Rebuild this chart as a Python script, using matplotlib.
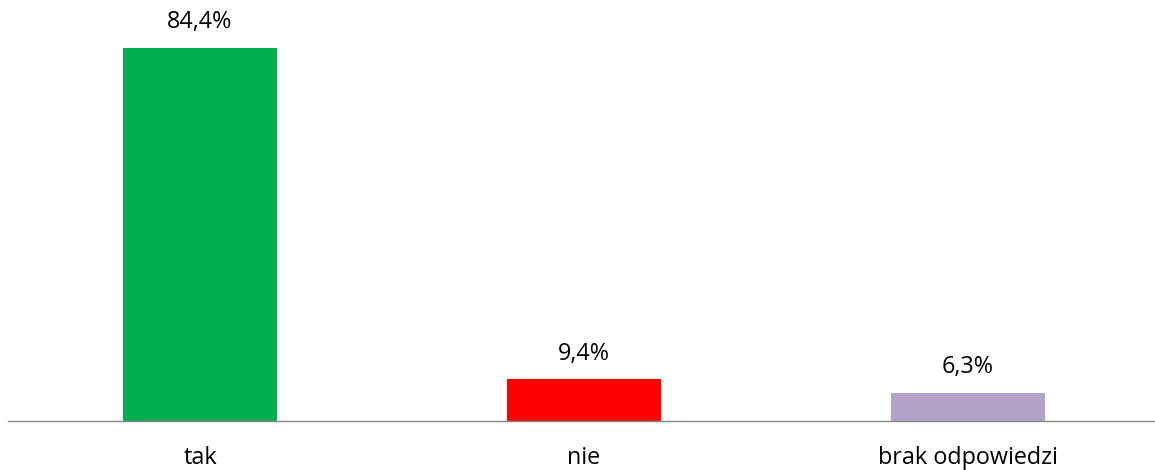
import matplotlib.pyplot as plt

# data
categories = ['tak', 'nie', 'brak odpowiedzi']
values = [84.4, 9.4, 6.3]
labels = ['84,4%', '9,4%', '6,3%']
colors = ['#00B050', '#FF0000', '#B3A2C7']

plt.rcParams['font.family'] = ['Open Sans', 'DejaVu Sans']

fig = plt.figure(figsize=(11.55, 4.7), dpi=100)
ax = fig.add_axes([8 / 1155, 49 / 470, 1152 / 1155, 398 / 470])

x = range(len(categories))
ax.bar(x, values, width=0.4, color=colors)

for i, v in enumerate(values):
    ax.annotate(labels[i], (i, v), xytext=(0, 10), textcoords='offset points',
                ha='center', va='bottom', fontsize=16.8, color='#000000')

ax.set_xlim(-0.5, 2.5)
ax.set_ylim(0, 90)
ax.set_xticks(list(x))
ax.set_xticklabels(categories, fontsize=16.8)
ax.tick_params(axis='x', length=0, pad=18)
ax.set_yticks([])
for s in ['top', 'right', 'left']:
    ax.spines[s].set_visible(False)
ax.spines['bottom'].set_color('#868686')
ax.spines['bottom'].set_linewidth(1)

fig.savefig('out.png', dpi=100)
